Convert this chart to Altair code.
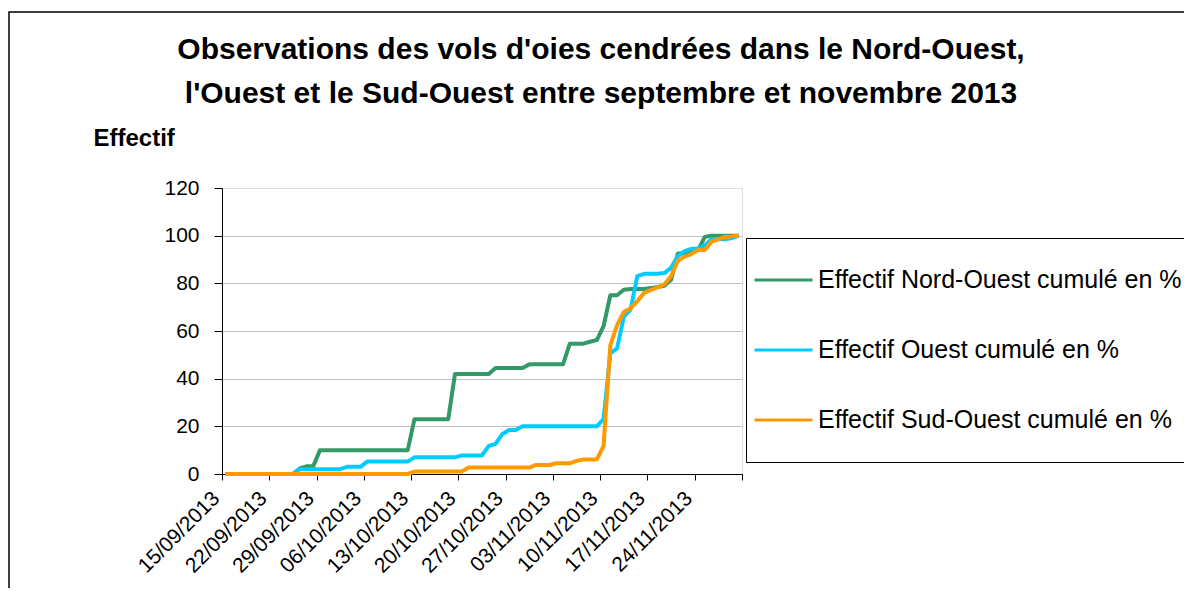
import altair as alt
import pandas as pd

FONT = "Liberation Sans, Arial"

# Daily dates (15/09/2013 .. 30/11/2013)
dates = pd.date_range("2013-09-15", "2013-11-30", freq="D")

series_names = [
    "Effectif Nord-Ouest cumulé en %",
    "Effectif Ouest cumulé en %",
    "Effectif Sud-Ouest cumulé en %",
]
series_colors = ["#339966", "#00CCFF", "#FF9900"]

nord_ouest = (
    [0] * 11 + [2.3, 3.2, 3.2] + [10] * 14 + [23] * 6 + [42] * 6 + [44.5] * 5 + [46] * 6
    + [54.7] * 3 + [55.5, 56.2, 62, 75, 75, 77.3, 77.6, 77.6, 77.6, 78, 78.5, 79, 81.5,
                    92.5, 92.5, 93.5, 94, 99.5] + [100] * 5
)
ouest = (
    [0] * 11 + [2] * 7 + [3] * 3 + [5.2] * 7 + [7] * 7 + [7.8] * 3
    + [7.8, 11.8, 12.6, 16.7, 18.5, 18.5] + [20] * 12
    + [23, 50.6, 52.7, 66, 69, 83, 84, 84, 84, 84.3, 86.5, 91.5, 93.5, 94.5, 94.5, 96,
       98.5, 98.5, 98.5, 99, 100]
)
sud_ouest = (
    [0] * 28 + [1] * 8 + [2.7] * 10 + [3.8] * 3 + [4.5] * 3 + [5.5] + [6.1] * 3
    + [11.7, 54, 62.5, 68, 69.5, 72.5, 76, 77.2, 78.3, 79.5, 83, 89.5, 91.2, 92.3, 94, 94,
       97.5, 98.5, 99.5, 99.7, 100]
)

tick_days = [0, 7, 14, 21, 28, 35, 42, 49, 56, 63, 70, 77]
tick_labels = ["15/09/2013", "22/09/2013", "29/09/2013", "06/10/2013", "13/10/2013",
               "20/10/2013", "27/10/2013", "03/11/2013", "10/11/2013", "17/11/2013",
               "24/11/2013", ""]
y_ticks = [0, 20, 40, 60, 80, 100, 120]

rows = []
for name, vals in zip(series_names, [nord_ouest, ouest, sud_ouest]):
    for d, v in zip(dates, vals):
        rows.append({"serie": name, "day": (d - dates[0]).days + 0.5, "value": v})
df = pd.DataFrame(rows)

label_expr = "[" + ",".join(f"'{t}'" for t in tick_labels) + "][round(datum.value / 7)]"

lines = alt.Chart(df).mark_line(strokeWidth=4, strokeJoin="round").encode(
    x=alt.X("day:Q",
            scale=alt.Scale(domain=[0, 77], nice=False, zero=False),
            axis=alt.Axis(values=tick_days, labelExpr=label_expr, labelAngle=-45,
                          labelAlign="right", labelBaseline="middle", labelPadding=15,
                          labelOffset=-6,
                          labelFontSize=21, labelFont=FONT, labelColor="black",
                          tickSize=6, tickColor="black", domainColor="black",
                          grid=False, title=None, labelOverlap=False)),
    y=alt.Y("value:Q",
            scale=alt.Scale(domain=[0, 120], nice=False),
            axis=alt.Axis(values=y_ticks, labelFontSize=21, labelFont=FONT,
                          labelColor="black", labelPadding=15, tickSize=8,
                          tickColor="black", domainColor="black", grid=True,
                          gridColor="#C0C0C0",
                          gridOpacity={"condition": {"test": "datum.value == 120", "value": 0}, "value": 1},
                          title="Effectif", titleAngle=0, titleX=-129, titleY=-43,
                          titleAlign="left", titleBaseline="alphabetic",
                          titleFontSize=24, titleFont=FONT, titleFontWeight="bold",
                          titleColor="black")),
    color=alt.Color("serie:N",
                    scale=alt.Scale(domain=series_names, range=series_colors),
                    legend=alt.Legend(title=None, orient="none", legendX=524, legendY=50,
                                      symbolType="stroke", symbolSize=3364,
                                      symbolStrokeWidth=3, labelFontSize=25,
                                      labelFont=FONT, labelColor="black", labelOffset=4,
                                      strokeColor="black", fillColor="white", padding=7,
                                      clipHeight=70, rowPadding=0, labelLimit=600)),
)

frame = alt.Chart(pd.DataFrame({"k": [0]})).mark_rect(
    fill="transparent", stroke="black", strokeWidth=1.5
).encode(x=alt.value(-213), x2=alt.value(1300), y=alt.value(-176), y2=alt.value(700))

chart = alt.layer(frame, lines).properties(
    width=520,
    height=286,
    autosize="none",
    padding={"left": 214, "top": 180, "right": 442, "bottom": 114},
    title=alt.TitleParams(
        ["Observations des vols d'oies cendrées dans le Nord-Ouest,",
         "l'Ouest et le Sud-Ouest entre septembre et novembre 2013"],
        fontSize=30, fontWeight="bold", font=FONT, color="black",
        anchor="middle", dx=119, lineHeight=44, offset=-98),
).configure_view(strokeWidth=0).configure(background="white")

chart.save("out.html", embed_options={"renderer": "svg", "actions": False})
